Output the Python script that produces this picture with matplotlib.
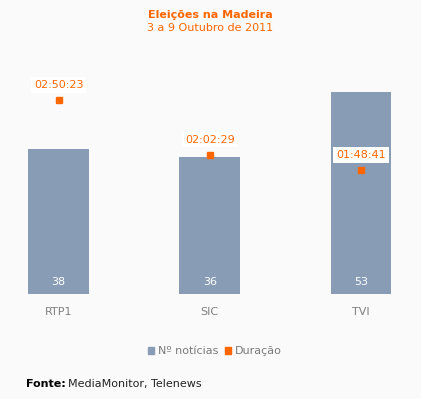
import matplotlib.pyplot as plt
from matplotlib.patches import Patch

channels = ["RTP1", "SIC", "TVI"]
n_news = [38, 36, 53]
duration_labels = ["02:50:23", "02:02:29", "01:48:41"]

def to_seconds(s):
    h, m, sec = [int(v) for v in s.split(":")]
    return h * 3600 + m * 60 + sec

durations = [to_seconds(d) for d in duration_labels]

bar_color = "#889DB5"
orange = "#FF6600"
bg = "#FAFAFA"
fs = 8

W, H = 421, 399
fig = plt.figure(figsize=(W / 100, H / 100), dpi=100, facecolor=bg)

# plot area in pixels: bottom at y=294, top at y=65
top_px, bot_px = 65, 294
ax = fig.add_axes([0, 1 - bot_px / H, 1, (bot_px - top_px) / H])
ax.set_facecolor(bg)
x = list(range(len(channels)))
ax.bar(x, n_news, width=0.4, color=bar_color, zorder=2)
ax.set_xlim(-0.387, 2.397)
ax.set_ylim(0, (bot_px - top_px) / 3.81)
ax.axis("off")

for xi, v in zip(x, n_news):
    ax.annotate(str(v), (xi, 0), xytext=(0, 12), textcoords="offset pixels",
                ha="center", va="center", color="white", fontsize=fs)

for xi, c in zip(x, channels):
    ax.annotate(c, (xi, 0), xytext=(0, -18), textcoords="offset pixels",
                ha="center", va="center", color="#808080", fontsize=fs)

ax2 = ax.twinx()
ax2.set_ylim(0, (bot_px - top_px) * 52.7)
ax2.axis("off")
ax2.plot(x, durations, linestyle="none", marker="s", markersize=5,
         color=orange, zorder=3)
for xi, d, lab in zip(x, durations, duration_labels):
    ax2.annotate(lab, (xi, d), xytext=(0, 15), textcoords="offset pixels",
                 ha="center", va="center", color=orange, fontsize=fs,
                 bbox=dict(boxstyle="square,pad=0.25", fc="white", ec="none"))

fig.text(0.5, 1 - 15 / H, "Eleições na Madeira", ha="center", va="center",
         color=orange, fontsize=fs, fontweight="bold")
fig.text(0.5, 1 - 28 / H, "3 a 9 Outubro de 2011", ha="center", va="center",
         color=orange, fontsize=fs)

handles = [Patch(color=bar_color, label="Nº notícias"),
           Patch(color=orange, label="Duração")]
leg = fig.legend(handles=handles, loc="center", bbox_to_anchor=(0.51, 1 - 351 / H),
                 ncol=2, frameon=False, fontsize=fs, handlelength=0.6,
                 handleheight=0.6, handletextpad=0.3, columnspacing=0.6)
for t in leg.get_texts():
    t.set_color("#7a7a7a")

fig.text(26 / W, 1 - 384 / H, "Fonte:", ha="left", va="center",
         fontsize=fs, fontweight="bold", color="black")
fig.text(68 / W, 1 - 384 / H, "MediaMonitor, Telenews", ha="left", va="center",
         fontsize=fs, color="#222222")

fig.savefig("out.png", dpi=100, facecolor=bg)
